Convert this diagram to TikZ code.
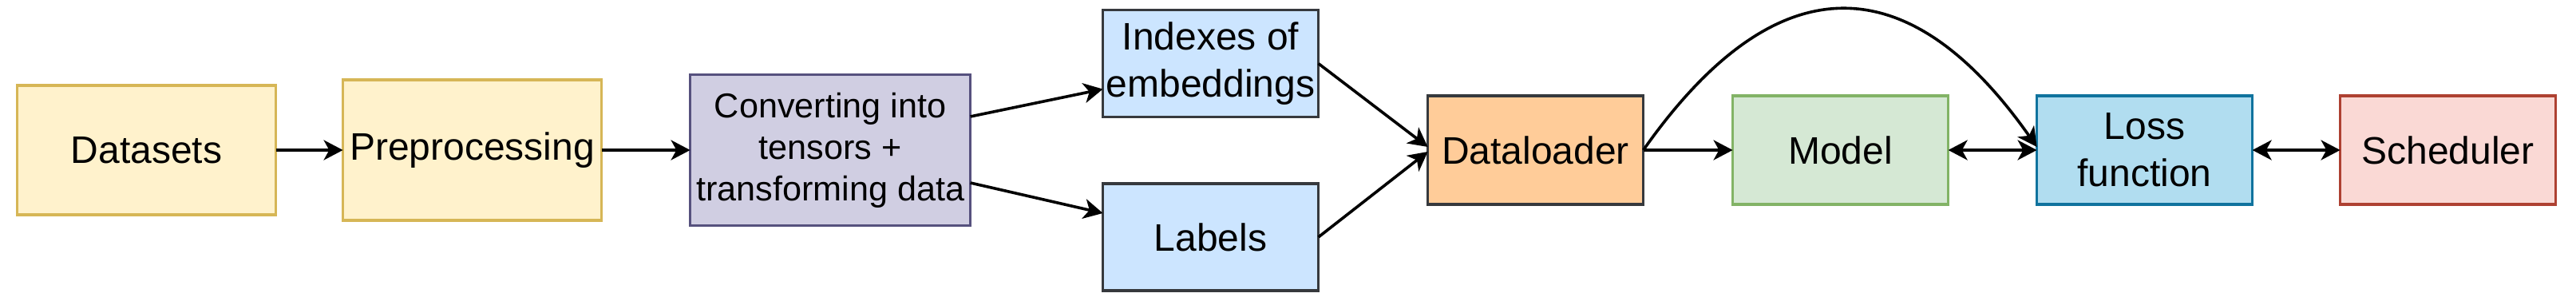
\documentclass[tikz,border=0pt]{standalone}
\usepackage{fontspec}
\setmainfont{Liberation Sans}
\usetikzlibrary{arrows.meta,positioning}
\definecolor{prepF}{HTML}{FFF2CC}
\definecolor{prepL}{HTML}{D6B656}
\definecolor{convF}{HTML}{D0CEE2}
\definecolor{convL}{HTML}{56517E}
\definecolor{dataF}{HTML}{CCE5FF}
\definecolor{darkL}{HTML}{36393D}
\definecolor{loadF}{HTML}{FFCC99}
\definecolor{modelF}{HTML}{D5E8D4}
\definecolor{modelL}{HTML}{82B366}
\definecolor{lossF}{HTML}{B1DDF0}
\definecolor{lossL}{HTML}{10739E}
\definecolor{schedF}{HTML}{FAD9D5}
\definecolor{schedL}{HTML}{AE4132}
\tikzset{
  stepbox/.style 2 args={rectangle, draw=#1, fill=#2, line width=0.8pt, align=center,
               font=\fontsize{12}{14.7}\selectfont, inner sep=1pt, outer sep=0pt,
               minimum width=67.5pt, minimum height=34pt},
  arr/.style={-{Stealth[length=6pt, width=6.25pt, inset=1.7pt]}, line width=0.9pt, draw=black},
  biarr/.style={{Stealth[length=6pt, width=6.25pt, inset=1.7pt]}-{Stealth[length=6pt, width=6.25pt, inset=1.7pt]},
                line width=0.9pt, draw=black},
}
\begin{document}
\begin{tikzpicture}
    \useasboundingbox (0,0) rectangle (806.75pt,-95.5pt);
    \node[stepbox={prepL}{prepF}, minimum width=81pt, minimum height=40.5pt] (ds) at (45.9pt,-47pt)
      {Datasets};
    \node[stepbox={prepL}{prepF}, minimum width=81pt, minimum height=44pt, right=21pt of ds] (pre)
      {Preprocessing};
    \node[stepbox={convL}{convF}, minimum width=87.75pt, minimum height=47.25pt,
          font=\fontsize{10.8}{13}\selectfont, right=27.75pt of pre] (conv)
      {Converting into\\tensors +\\transforming data};
    \node[stepbox={darkL}{dataF}, minimum height=33.5pt, right=41.5pt of conv, yshift=27.1pt] (idx)
      {Indexes of\\embeddings};
    \node[stepbox={darkL}{dataF}, minimum height=33.5pt, right=41.5pt of conv, yshift=-27.25pt] (lab)
      {Labels};
    \node[stepbox={darkL}{loadF}, right=143.25pt of conv] (dl) {Dataloader};
    \node[stepbox={modelL}{modelF}, right=28pt of dl] (mdl) {Model};
    \node[stepbox={lossL}{lossF}, right=27.75pt of mdl] (loss) {Loss\\function};
    \node[stepbox={schedL}{schedF}, right=27.5pt of loss] (sch) {Scheduler};
    \draw[arr] (ds) -- (pre); \draw[arr] (pre) -- (conv);
    \draw[arr] ([yshift=10.5pt]conv.east) -- ([yshift=-8pt]idx.west);
    \draw[arr] ([yshift=-10.25pt]conv.east) -- ([yshift=7.5pt]lab.west);
    \draw[arr] (idx.east) -- ([yshift=1pt]dl.west);
    \draw[arr] (lab.east) -- ([yshift=-0.5pt]dl.west);
    \draw[arr] (dl) -- (mdl);
    \draw[arr] (dl.east) .. controls +(40.8pt,58pt) and +(-40.8pt,58pt) .. ([yshift=1pt]loss.west);
    \draw[biarr] (mdl) -- (loss); \draw[biarr] (loss) -- (sch);
  \end{tikzpicture}
\end{document}
